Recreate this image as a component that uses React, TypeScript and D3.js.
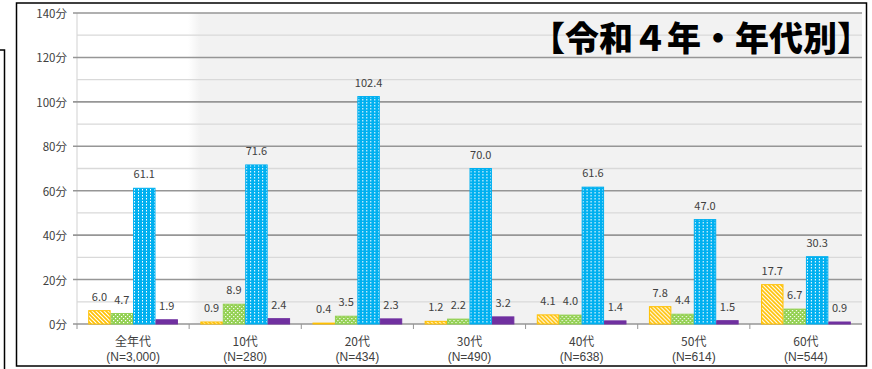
import React from "react";
import * as d3 from "d3";

// Age groups and sample sizes
const categories = ["全年代", "10代", "20代", "30代", "40代", "50代", "60代"];
const sampleSizes = ["(N=3,000)", "(N=280)", "(N=434)", "(N=490)", "(N=638)", "(N=614)", "(N=544)"];

// Minutes per series, one value per age group
const seriesKeys = ["s1", "s2", "s3", "s4"];
const series1 = [6.0, 0.9, 0.4, 1.2, 4.1, 7.8, 17.7];
const series2 = [4.7, 8.9, 3.5, 2.2, 4.0, 4.4, 6.7];
const series3 = [61.1, 71.6, 102.4, 70.0, 61.6, 47.0, 30.3];
const series4 = [1.9, 2.4, 2.3, 3.2, 1.4, 1.5, 0.9];
const seriesValues = [series1, series2, series3, series4];

const yTicks = [0, 20, 40, 60, 80, 100, 120, 140];
const yMinorTicks = [10, 30, 50, 70, 90, 110, 130];
const title = "【令和４年・年代別】";

const W = 872;
const H = 369;
const plotLeft = 77;
const plotRight = 862;
const plotTop = 13;
const plotBottom = 324;

const fills = ["url(#pat-yellow)", "url(#pat-green)", "url(#pat-blue)", "#7030A0"];
const strokes = ["#FFC000", "#92D050", "#00B0F0", "#7030A0"];

const font = "'Noto Sans CJK JP', 'Noto Sans', sans-serif";
const latinFont = "'Liberation Sans', Arial, sans-serif";

export default function App() {
  const x0 = d3.scaleBand<string>().domain(categories).range([plotLeft, plotRight]);
  const x1 = d3
    .scaleBand<string>()
    .domain(seriesKeys)
    .range([0, x0.bandwidth()])
    .paddingInner(0)
    .paddingOuter(0.5);
  const y = d3.scaleLinear().domain([0, 140]).range([plotBottom, plotTop]);

  const boundaries = categories.slice(1).map((c) => x0(c)!);

  return (
    <svg
      width={W}
      height={H}
      viewBox={`0 0 ${W} ${H}`}
      style={{ position: "absolute", left: 0, top: 0, background: "#fff" }}
    >
      <defs>
        <linearGradient id="plot-bg" gradientUnits="userSpaceOnUse" x1={plotLeft} x2={plotRight} y1={0} y2={0}>
          <stop offset={(188 - plotLeft) / (plotRight - plotLeft)} stopColor="#ffffff" />
          <stop offset={(200 - plotLeft) / (plotRight - plotLeft)} stopColor="#f2f2f2" />
          <stop offset={1} stopColor="#f2f2f2" />
        </linearGradient>
        <pattern id="pat-yellow" width={4} height={4} patternUnits="userSpaceOnUse">
          <rect width={4} height={4} fill="#FFC000" />
          <path d="M-1,-1 L5,5 M-1,3 L1,5 M3,-1 L5,1" stroke="#ffffff" strokeWidth={1.2} />
        </pattern>
        <pattern id="pat-green" width={4} height={4} patternUnits="userSpaceOnUse">
          <rect width={4} height={4} fill="#92D050" />
          <rect x={0} y={0} width={1.2} height={1.2} fill="#ffffff" />
          <rect x={2} y={2} width={1.2} height={1.2} fill="#ffffff" />
        </pattern>
        <pattern id="pat-blue" width={4} height={3} patternUnits="userSpaceOnUse">
          <rect width={4} height={3} fill="#00B0F0" />
          <rect x={1} y={0} width={1} height={1.5} fill="#ffffff" />
        </pattern>
      </defs>

      {/* outer frames */}
      <path d="M0,50 L4.5,50 L4.5,369" fill="none" stroke="#000" strokeWidth={1.5} />
      <rect x={16.5} y={3} width={850} height={363} fill="none" stroke="#000" strokeWidth={1.5} />

      {/* plot background */}
      <rect x={plotLeft} y={plotTop} width={plotRight - plotLeft} height={plotBottom - plotTop} fill="url(#plot-bg)" />

      {/* minor gridlines */}
      {yMinorTicks.map((t) => (
        <line key={`m${t}`} x1={plotLeft} x2={plotRight} y1={y(t)} y2={y(t)} stroke="#d9d9d9" strokeWidth={1.3} />
      ))}
      {/* y axis line */}
      <line x1={plotLeft} x2={plotLeft} y1={plotTop} y2={plotBottom} stroke="#d9d9d9" strokeWidth={1.2} />
      {/* major gridlines */}
      {yTicks.map((t) => (
        <line key={`M${t}`} x1={plotLeft - 4} x2={plotRight} y1={y(t)} y2={y(t)} stroke="#969696" strokeWidth={1.6} />
      ))}
      {/* category boundary ticks */}
      {[plotLeft, ...boundaries].map((b, i) => (
        <line key={`t${i}`} x1={b} x2={b} y1={plotBottom} y2={plotBottom + 5} stroke="#969696" strokeWidth={1} />
      ))}

      {/* y tick labels */}
      {yTicks.map((t) => (
        <text
          key={`yl${t}`}
          x={plotLeft - 10}
          y={y(t)}
          textAnchor="end"
          dominantBaseline="central"
          fontFamily={font}
          fontSize={11.5}
          fill="#404040"
        >
          {`${t}分`}
        </text>
      ))}

      {/* bars */}
      {categories.map((c, ci) => (
        <g key={c} transform={`translate(${x0(c)},0)`}>
          {seriesKeys.map((k, si) => {
            const v = seriesValues[si][ci];
            const bx = x1(k)!;
            const bw = x1.bandwidth();
            return (
              <g key={k}>
                <rect
                  x={bx + 0.5}
                  y={y(v)}
                  width={bw - 1}
                  height={plotBottom - y(v)}
                  fill={fills[si]}
                  stroke={strokes[si]}
                  strokeWidth={1}
                />
                <text
                  x={bx + bw / 2}
                  y={y(v) - 15}
                  textAnchor="middle"
                  dominantBaseline="central"
                  fontFamily={font}
                  fontSize={11}
                  fill="#404040"
                >
                  {v.toFixed(1)}
                </text>
              </g>
            );
          })}
        </g>
      ))}

      {/* category labels */}
      {categories.map((c, ci) => (
        <g key={`cl${c}`}>
          <text
            x={x0(c)! + x0.bandwidth() / 2}
            y={340.5}
            textAnchor="middle"
            dominantBaseline="central"
            fontFamily={font}
            fontSize={12}
            fill="#404040"
          >
            {c}
          </text>
          <text
            x={x0(c)! + x0.bandwidth() / 2}
            y={357}
            textAnchor="middle"
            dominantBaseline="central"
            fontFamily={latinFont}
            fontSize={12}
            fill="#404040"
          >
            {sampleSizes[ci]}
          </text>
        </g>
      ))}

      {/* title */}
      <text
        x={871}
        y={36}
        textAnchor="end"
        dominantBaseline="central"
        fontFamily={font}
        fontWeight={900}
        fontSize={34}
        fill="#000"
      >
        {title}
      </text>
    </svg>
  );
}
